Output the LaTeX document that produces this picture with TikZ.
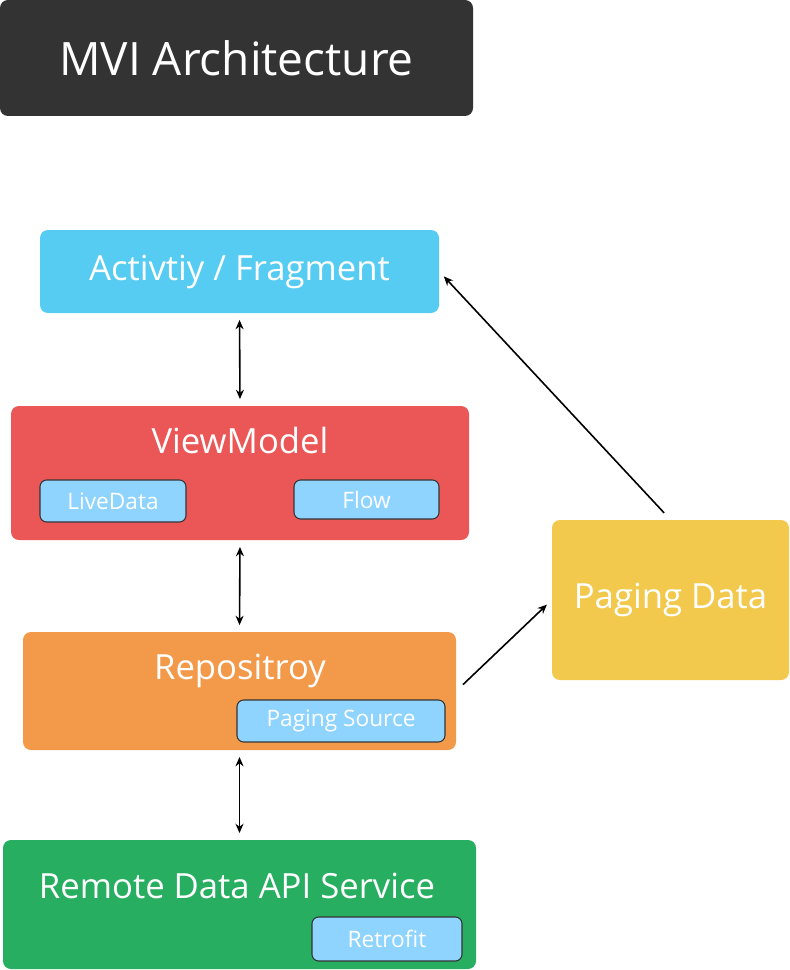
\documentclass[tikz,border=0pt]{standalone}
\usepackage{fontspec}
\setmainfont{Open Sans}
\usetikzlibrary{positioning,arrows.meta,calc}
\definecolor{mviDark}{HTML}{333333}
\definecolor{mviBlue}{HTML}{56CCF2}
\definecolor{mviRed}{HTML}{EB5757}
\definecolor{mviOrange}{HTML}{F2994A}
\definecolor{mviGreen}{HTML}{27AE60}
\definecolor{mviYellow}{HTML}{F2C94C}
\definecolor{mviSub}{HTML}{8FD4FF}
\newcommand{\fs}[1]{\fontsize{#1}{#1}\selectfont}

\begin{document}
\begin{tikzpicture}[
        x=0.75pt,
        y=-0.75pt,
        >={Stealth[length=7pt,width=6pt]},
        layer/.style={rounded corners=6pt, inner sep=0pt, text=white, font=\fs{26pt}},
        lbl/.style={text=white, font=\fs{26pt}},
        part/.style={draw=mviDark, line width=0.8pt, fill=mviSub, rounded corners=5pt,
            inner sep=0pt, text=white, font=\fs{17pt}},
        link/.style={<->, line width=1.2pt, shorten <=5pt, shorten >=5pt},
        flow/.style={->, line width=1.2pt}
    ]
        \useasboundingbox (0,0) rectangle (789,970);

        % Titel
        \node[layer, fill=mviDark, minimum width=473*0.75pt, minimum height=116*0.75pt,
            font=\fs{34.5pt}] (title) at (236.5,58) {MVI Architecture};

        % Schichten von oben nach unten
        \node[layer, fill=mviBlue, minimum width=399*0.75pt, minimum height=83*0.75pt]
            (act) at (239.5,271.5) {Activtiy / Fragment};
        \node[layer, fill=mviRed, minimum width=458*0.75pt, minimum height=134*0.75pt]
            (vm) at (240,473) {};
        \node[layer, fill=mviOrange, minimum width=433*0.75pt, minimum height=118*0.75pt]
            (repo) at (239.5,691) {};
        \node[layer, fill=mviGreen, minimum width=473*0.75pt, minimum height=129*0.75pt]
            (remote) at (239.5,904.5) {};
        \node[layer, fill=mviYellow, minimum width=237*0.75pt, minimum height=160*0.75pt]
            (paging) at (670.5,600) {Paging Data};

        % Beschriftungen
        \node[lbl] (vmlbl) at (240,440) {ViewModel};
        \node[lbl] (repolbl) at (240,671) {Repositroy};
        \node[lbl] (remotelbl) at (237,886) {Remote Data API Service};

        % Bausteine
        \node[part, minimum width=146*0.75pt, minimum height=42*0.75pt] (livedata) at (113,501) {LiveData};
        \node[part, minimum width=145*0.75pt, minimum height=39*0.75pt] (flowbox) at (366.5,499.5) {Flow};
        \node[part, minimum width=208*0.75pt, minimum height=42*0.75pt] (pgsrc) at (341,721) {Paging Source};
        \node[part, minimum width=150*0.75pt, minimum height=44*0.75pt] (retrofit) at (387,939) {Retrofit};

        % Verbindungen
        \draw[link] (act.south) -- (vm.north);
        \draw[link] (vm.south) -- (repo.north);
        \draw[link] (repo.south) -- (remote.north);
        \draw[flow, shorten <=7pt, shorten >=5pt] (repo.east) -- (paging.west);
        \draw[flow, shorten <=7pt, shorten >=5pt] (paging.north) -- (act.east);
    \end{tikzpicture}
\end{document}
